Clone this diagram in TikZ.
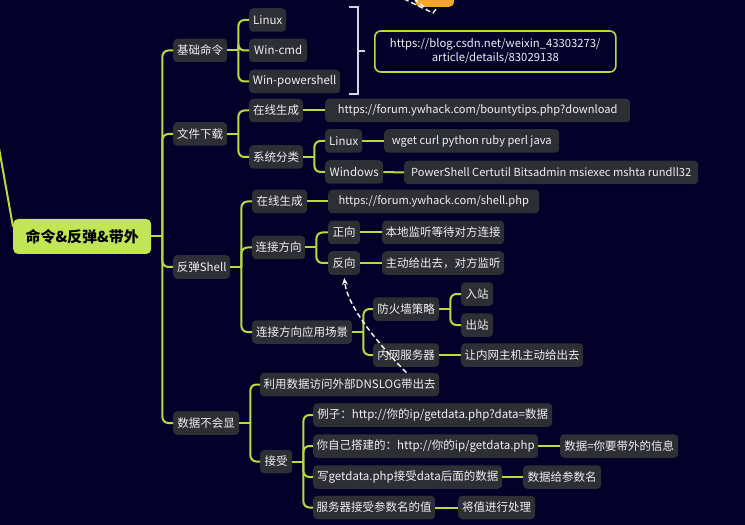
\documentclass[tikz,border=0pt]{standalone}
\usepackage{fontspec}
\setmainfont{Noto Sans CJK SC}
\usetikzlibrary{arrows.meta}
\definecolor{bgc}{HTML}{03002A}
\definecolor{boxc}{HTML}{2E2F35}
\definecolor{lime}{HTML}{B8DC3E}
\definecolor{mainc}{HTML}{C2E556}
\definecolor{txtc}{HTML}{F0F0F0}
\definecolor{brk}{HTML}{D4D4E4}
\definecolor{orangec}{HTML}{F6A62A}
\tikzset{
  box/.style={fill=boxc, rounded corners=4bp, text=txtc, inner xsep=0pt, inner ysep=0pt,
    minimum height=23.5bp, font=\fontsize{11.5bp}{13bp}\selectfont, anchor=west},
  latin/.style={font=\fontsize{11.1bp}{13bp}\selectfont},
  mainbox/.style={fill=mainc, rounded corners=5bp, text=black, minimum height=35bp,
    font=\fontsize{15bp}{17bp}\selectfont\bfseries, anchor=west, inner xsep=0pt},
  conn/.style={draw=lime, line width=2bp},
  branch/.style={conn, rounded corners=6bp},
  relation/.style={draw=white, line width=1.4bp, dashed, dash pattern=on 5bp off 3bp},
}
\newcommand{\bx}[6][]{\node[box, minimum width=#5bp, #1] (#2) at (#3,#4) {#6};}
\newcommand{\spine}[2]{\path (#1.east) ++(11,0) coordinate (#1-j); \draw[conn] (#1.east) -- (#1-j);
  \foreach \c in {#2} {\draw[branch] (#1-j) |- (\c.west);}}
\begin{document}
\begin{tikzpicture}[x=1bp,y=-1bp]
\fill[bgc] (0,0) rectangle (745,525);
\useasboundingbox (0,0) rectangle (745,525);

% top partial node and relation
\node[fill=orangec, rounded corners=5bp, minimum width=39bp, minimum height=20bp, anchor=south west, inner sep=0pt] (top) at (415,7) {};
\coordinate (topin1) at (404,-1);
\coordinate (topin2) at (414,-1);
\draw[relation] (topin1) -- (433,13) -- (436,9);
\draw[relation] (topin2) -- (427,9);

% main
\node[mainbox, minimum width=138bp] (main) at (13,236.5) {命令\&反弹\&带外};
\coordinate (in) at (-1,148);
\draw[conn] (in) -- ([yshift=-8bp]main.north west);

% level 1
\bx{jc}{173}{50.5}{54}{基础命令}
\bx{wj}{173}{134}{54}{文件下载}
\bx{ft}{173}{267}{57}{反弹Shell}
\bx{sj}{173}{423}{66}{数据不会显}

% 基础命令
\bx{lin1}{249}{20}{37}{Linux}
\bx{wcmd}{249}{50.5}{58}{Win-cmd}
\bx{wps}{249}{81.5}{91}{Win-powershell}
\coordinate (bt) at (349,7);
\coordinate (bb) at (349,94);
\draw[draw=brk, line width=1.6bp] (bt) -- (358,7) -- (358,94) -- (bb);
\coordinate (bm) at (358,51);
\node[draw=lime, line width=1.6bp, rounded corners=6bp, minimum width=241bp, minimum height=41bp,
  text=txtc, align=center, font=\fontsize{11.3bp}{14bp}\selectfont, anchor=west, inner sep=0pt] (csdn) at (374,51.5)
  {https://blog.csdn.net/weixin\_43303273/\\article/details/83029138};
\draw[draw=brk, line width=1.6bp] (bm) -- (365,51);

% 文件下载
\bx{zx1}{249}{110.5}{54}{在线生成}
\bx{xt}{249}{157}{54}{系统分类}
\bx[latin]{dl}{325}{110.5}{305}{https://forum.ywhack.com/bountytips.php?download}
\bx{lin2}{325}{141}{37}{Linux}
\bx{win}{325}{172}{58}{Windows}
\bx[latin]{wget}{384}{141}{175}{wget curl python ruby perl java}
\bx[latin]{psh}{404}{172.5}{294}{PowerShell Certutil Bitsadmin msiexec mshta rundll32}

% 反弹Shell
\bx{zx2}{252}{201.5}{55}{在线生成}
\bx[latin]{shu}{328}{201.5}{211}{https://forum.ywhack.com/shell.php}
\bx{ljfx}{252}{247.5}{53}{连接方向}
\bx{zhx}{328}{232.5}{32}{正向}
\bx{fx}{328}{263}{32}{反向}
\bx{bd}{382}{232.5}{122}{本地监听等待对方连接}
\bx{zd}{382}{263}{122}{主动给出去，对方监听}
\bx{cj}{252}{332}{100}{连接方向应用场景}
\bx{fhq}{373}{309}{66}{防火墙策略}
\bx{nw}{373}{355}{66}{内网服务器}
\bx{rz}{461}{294}{32}{入站}
\bx{cz}{461}{325}{32}{出站}
\bx{rnw}{461}{355}{122}{让内网主机主动给出去}

% 数据不会显
\bx{dns}{260}{384.5}{179}{利用数据访问外部DNSLOG带出去}
\bx{js}{260}{461.5}{32}{接受}
\bx{lz}{313}{415}{239}{例子：http://你的ip/getdata.php?data=数据}
\bx{zj}{313}{446}{225}{你自己搭建的：http://你的ip/getdata.php}
\bx{sjx}{560}{446}{118}{数据=你要带外的信息}
\bx{xg}{313}{477}{189}{写getdata.php接受data后面的数据}
\bx{cs}{523}{477}{78}{数据给参数名}
\bx{fwq}{313}{507.5}{122}{服务器接受参数名的值}
\bx{jz}{458}{507.5}{77}{将值进行处理}

% connectors
\spine{main}{jc,wj,ft,sj}
\spine{jc}{lin1,wcmd,wps}
\spine{wj}{zx1,xt}
\draw[conn] (zx1.east) -- (dl.west);
\spine{xt}{lin2,win}
\draw[conn] (lin2.east) -- (wget.west);
\draw[conn] (win.east) -- (psh.west);
\spine{ft}{zx2,ljfx,cj}
\draw[conn] (zx2.east) -- (shu.west);
\spine{ljfx}{zhx,fx}
\draw[conn] (zhx.east) -- (bd.west);
\draw[conn] (fx.east) -- (zd.west);
\spine{cj}{fhq,nw}
\spine{fhq}{rz,cz}
\draw[conn] (nw.east) -- (rnw.west);
\spine{sj}{dns,js}
\spine{js}{lz,zj,xg,fwq}
\draw[conn] (zj.east) -- (sjx.west);
\draw[conn] (xg.east) -- (cs.west);
\draw[conn] (fwq.east) -- (jz.west);

% relation dashed arrow
\draw[relation, -{Stealth[length=7bp,width=6bp]}] ([xshift=-33bp]dns.north east) -- ++(-4,-4)
  .. controls (385,350) and (348,310) .. ([yshift=-3bp]fx.south);
\end{tikzpicture}
\end{document}
